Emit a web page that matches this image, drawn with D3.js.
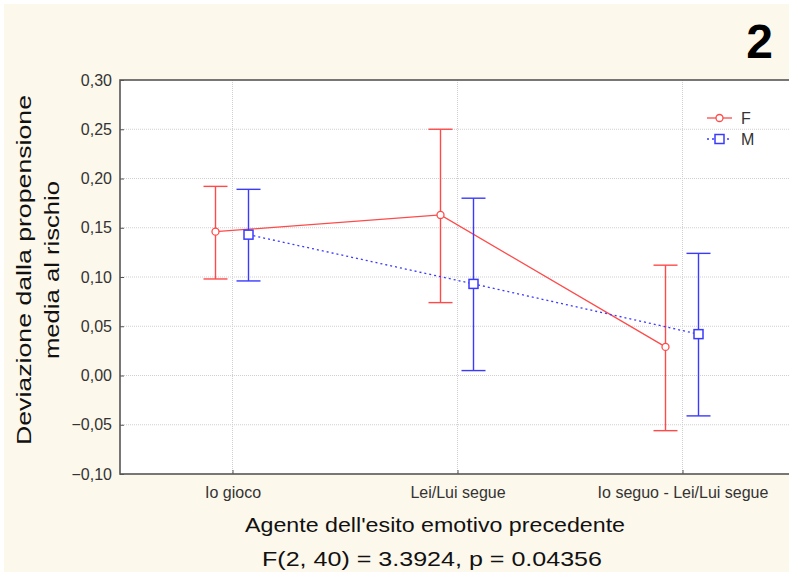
<!DOCTYPE html>
<html>
<head>
<meta charset="utf-8">
<script src="https://cdn.jsdelivr.net/npm/d3@7"></script>
<style>
  body { margin: 0; background: #fff; }
  text { font-family: Arial, "Liberation Sans", sans-serif; }
</style>
</head>
<body>
<div id="chart"></div>
<script>
const categories = ['Io gioco', 'Lei/Lui segue', 'Io seguo - Lei/Lui segue'];
const series = ['F', 'M'];
const meanF = [0.146, 0.163, 0.029];
const lowF = [0.098, 0.074, -0.056];
const highF = [0.192, 0.250, 0.112];
const meanM = [0.143, 0.093, 0.042];
const lowM = [0.096, 0.005, -0.041];
const highM = [0.189, 0.180, 0.124];
const yTicks = [-0.10, -0.05, 0, 0.05, 0.10, 0.15, 0.20, 0.25, 0.30];

const width = 789;
const height = 572;
const plot = { left: 120, top: 80, right: 795, bottom: 474 };

const data = series.map((s, si) => ({
    name: s,
    color: si === 0 ? '#ff4a4a' : '#3a3aff',
    offset: si === 0 ? -17 : 16,
    values: categories.map((c, i) => ({
        cat: c,
        mean: si === 0 ? meanF[i] : meanM[i],
        low: si === 0 ? lowF[i] : lowM[i],
        high: si === 0 ? highF[i] : highM[i],
    })),
}));

const x = d3
    .scalePoint()
    .domain(categories)
    .range([plot.left, plot.right])
    .padding(0.5);
const y = d3.scaleLinear().domain([-0.1, 0.3]).range([plot.bottom, plot.top]);
const fmt = (d) => d3.format('.2f')(d).replace('.', ',');

const svg = d3
    .select('#chart')
    .append('svg')
    .attr('width', width)
    .attr('height', height);

svg.append('rect')
    .attr('x', 4)
    .attr('y', 4)
    .attr('width', width - 4)
    .attr('height', height - 4)
    .attr('fill', '#fdf8ec');

svg.append('rect')
    .attr('x', plot.left)
    .attr('y', plot.top)
    .attr('width', plot.right - plot.left)
    .attr('height', plot.bottom - plot.top)
    .attr('fill', '#fff');

// grid
svg.append('g')
    .selectAll('line')
    .data(yTicks.slice(1, -1))
    .join('line')
    .attr('x1', plot.left)
    .attr('x2', plot.right)
    .attr('y1', (d) => y(d))
    .attr('y2', (d) => y(d))
    .attr('stroke', '#cfcfcf')
    .attr('stroke-dasharray', '1,1');
svg.append('g')
    .selectAll('line')
    .data(categories)
    .join('line')
    .attr('x1', (d) => x(d))
    .attr('x2', (d) => x(d))
    .attr('y1', plot.top)
    .attr('y2', plot.bottom)
    .attr('stroke', '#cfcfcf')
    .attr('stroke-dasharray', '1,1');

// axes
const yAxis = d3.axisLeft(y).tickValues(yTicks).tickFormat(fmt).tickSize(-4).tickPadding(8);
svg.append('g')
    .attr('transform', `translate(${plot.left},0)`)
    .call(yAxis)
    .call((g) => g.select('.domain').remove())
    .call((g) => g.selectAll('.tick line').attr('stroke', '#555'))
    .call((g) => g.selectAll('.tick text').attr('fill', '#333').attr('font-size', 16));

const xAxis = d3.axisBottom(x).tickSize(-4).tickPadding(13);
svg.append('g')
    .attr('transform', `translate(0,${plot.bottom})`)
    .call(xAxis)
    .call((g) => g.select('.domain').remove())
    .call((g) => g.selectAll('.tick line').attr('stroke', '#555'))
    .call((g) => g.selectAll('.tick text').attr('fill', '#333').attr('font-size', 16));

svg.append('rect')
    .attr('x', plot.left)
    .attr('y', plot.top)
    .attr('width', plot.right - plot.left)
    .attr('height', plot.bottom - plot.top)
    .attr('fill', 'none')
    .attr('stroke', '#555')
    .attr('stroke-width', 1.6);

// series
const line = d3
    .line()
    .x((d) => x(d.cat))
    .y((d) => y(d.mean));

const sg = svg.append('g').selectAll('g').data(data).join('g');

sg.append('path')
    .attr('fill', 'none')
    .attr('stroke', (d) => d.color)
    .attr('stroke-width', 1.3)
    .attr('stroke-dasharray', (d) => (d.name === 'M' ? '2,3' : null))
    .attr('d', (d) => line.x((v) => x(v.cat) + d.offset)(d.values));

sg.each(function (s) {
    const g = d3.select(this);
    const bars = g
        .selectAll('g.err')
        .data(s.values)
        .join('g')
        .attr('class', 'err')
        .attr('stroke', s.color)
        .attr('stroke-width', 1.4);
    bars.append('line')
        .attr('x1', (d) => x(d.cat) + s.offset)
        .attr('x2', (d) => x(d.cat) + s.offset)
        .attr('y1', (d) => y(d.low))
        .attr('y2', (d) => y(d.high));
    bars.append('line')
        .attr('x1', (d) => x(d.cat) + s.offset - 12)
        .attr('x2', (d) => x(d.cat) + s.offset + 12)
        .attr('y1', (d) => y(d.high))
        .attr('y2', (d) => y(d.high));
    bars.append('line')
        .attr('x1', (d) => x(d.cat) + s.offset - 12)
        .attr('x2', (d) => x(d.cat) + s.offset + 12)
        .attr('y1', (d) => y(d.low))
        .attr('y2', (d) => y(d.low));
    if (s.name === 'F') {
        g.selectAll('circle')
            .data(s.values)
            .join('circle')
            .attr('cx', (d) => x(d.cat) + s.offset)
            .attr('cy', (d) => y(d.mean))
            .attr('r', 3.5)
            .attr('fill', '#fff')
            .attr('stroke', s.color)
            .attr('stroke-width', 1.3);
    } else {
        g.selectAll('rect.mk')
            .data(s.values)
            .join('rect')
            .attr('class', 'mk')
            .attr('x', (d) => x(d.cat) + s.offset - 4.5)
            .attr('y', (d) => y(d.mean) - 4.5)
            .attr('width', 9)
            .attr('height', 9)
            .attr('fill', '#fff')
            .attr('stroke', s.color)
            .attr('stroke-width', 1.5);
    }
});

// legend
const lg = svg
    .append('g')
    .selectAll('g')
    .data(data)
    .join('g')
    .attr('transform', (d, i) => `translate(707,${118 + i * 21})`);
lg.append('line')
    .attr('x2', 25)
    .attr('stroke', (d) => d.color)
    .attr('stroke-width', 1.3)
    .attr('stroke-dasharray', (d) => (d.name === 'M' ? '2,3' : null));
lg.filter((d) => d.name === 'F')
    .append('circle')
    .attr('cx', 12.5)
    .attr('r', 3.5)
    .attr('fill', '#fff')
    .attr('stroke', (d) => d.color)
    .attr('stroke-width', 1.3);
lg.filter((d) => d.name === 'M')
    .append('rect')
    .attr('x', 8)
    .attr('y', -4.5)
    .attr('width', 9)
    .attr('height', 9)
    .attr('fill', '#fff')
    .attr('stroke', (d) => d.color)
    .attr('stroke-width', 1.5);
lg.append('text')
    .attr('x', 34)
    .attr('dy', '0.36em')
    .attr('font-size', 16)
    .attr('fill', '#333')
    .text((d) => d.name);

// titles
const title = (txt, tx, ty, rot, len) =>
    svg.append('text')
        .attr('transform', `translate(${tx},${ty}) rotate(${rot})`)
        .attr('text-anchor', 'middle')
        .attr('font-size', 21)
        .attr('fill', '#111')
        .attr('textLength', len)
        .attr('lengthAdjust', 'spacingAndGlyphs')
        .text(txt);
title('Deviazione dalla propensione', 31, 270, -90, 350);
title('media al rischio', 59, 270, -90, 178);
title("Agente dell'esito emotivo precedente", 435, 532, 0, 380);
title('F(2, 40) = 3.3924, p = 0.04356', 432, 566, 0, 340);

svg.append('text')
    .attr('x', 773)
    .attr('y', 58)
    .attr('text-anchor', 'end')
    .attr('font-size', 48)
    .attr('font-weight', 'bold')
    .attr('fill', '#000')
    .text('2');
</script>
</body>
</html>
